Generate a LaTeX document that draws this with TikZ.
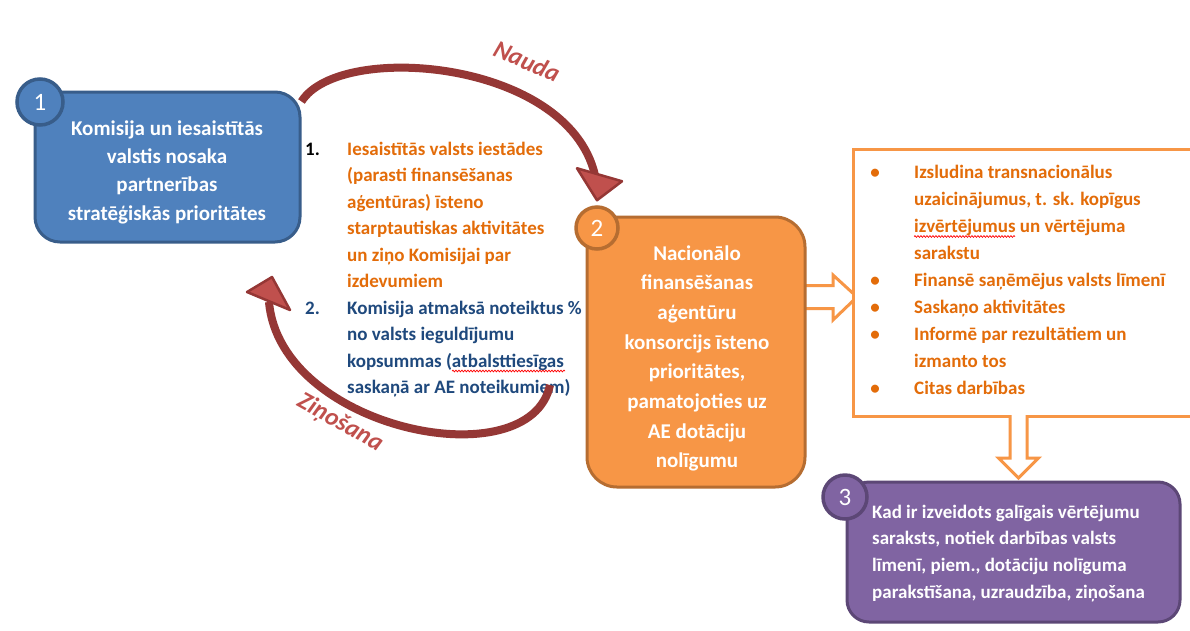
\documentclass[tikz,border=0pt]{standalone}
\usepackage{fontspec}
\setmainfont{Carlito}
\usetikzlibrary{calc,decorations.pathmorphing}
\definecolor{bfill}{HTML}{4F81BD}
\definecolor{bdraw}{HTML}{385D8A}
\definecolor{ofill}{HTML}{F79646}
\definecolor{odraw}{HTML}{B66D31}
\definecolor{pfill}{HTML}{8064A2}
\definecolor{pdraw}{HTML}{5C4776}
\definecolor{arr}{HTML}{953735}
\definecolor{arrhead}{HTML}{C0504D}
\definecolor{otext}{HTML}{E36C09}
\definecolor{btext}{HTML}{1F497D}
\definecolor{lbl}{HTML}{C0504D}
\begin{document}
\begin{tikzpicture}[x=1pt,y=-1pt,
  rbox/.style={rounded corners=#1, line width=3pt, inner sep=0},
  numc/.style={circle, line width=3.5pt, inner sep=0, text=white, font=\fontsize{25}{25}\selectfont},
  big/.style={text=white, font=\fontsize{21}{21}\selectfont\bfseries, anchor=base, inner sep=0},
  mid/.style={font=\fontsize{19}{19}\selectfont\bfseries, anchor=base west, inner sep=0},
  small/.style={text=white, font=\fontsize{19}{19}\selectfont\bfseries, anchor=base west, inner sep=0},
  curvearr/.style={draw=arr, line width=8pt},
  headarr/.style={fill=arrhead, draw=arr, line width=2.5pt, line join=round},
  hollow/.style={draw=ofill, fill=white, line width=3pt},
  lbltxt/.style={text=lbl, font=\fontsize{#1}{#1}\selectfont\bfseries\itshape, inner sep=0},
  squig/.style={draw=red, line width=0.7pt, decorate, decoration={snake, amplitude=0.9pt, segment length=3pt}}
]
\useasboundingbox (0,0) rectangle (1190,630);
\fill[white] (0,0) rectangle (1190,630);

% ---- box 1
\node[rbox=25pt, draw=bdraw, fill=bfill, minimum width=265pt, minimum height=150pt] (b1) at (167.5,167) {};
\node[numc, draw=bdraw, fill=bfill, minimum size=46pt] (c1) at (40,102) {1};
\node[big] (b1a) at (167,135) {Komisija un iesaistītās};
\node[big] (b1b) at (167,163.3) {valstis nosaka};
\node[big] (b1c) at (167,191.6) {partnerības};
\node[big] (b1d) at (167,220) {stratēģiskās prioritātes};

% ---- hollow arrows (behind boxes)
\coordinate (as) at (805,297);
\draw[hollow] (as) ++(-3,-11.5) -- ++(31,0) -- ++(0,-10.5) -- ++(24,22) -- ++(-24,23) -- ++(0,-11.5) -- ++(-31,0) -- cycle;

% ---- right box
\node[draw=ofill, line width=3pt, fill=white, minimum width=350pt, minimum height=267pt, anchor=north west, inner sep=0] (rb) at (852,148) {};
\coordinate (ds) at (1018.5,415);
\draw[hollow] (ds) ++(-8.5,0) -- ++(0,43) -- ++(-11.5,0) -- ++(20,20) -- ++(20,-20) -- ++(-11.5,0) -- ++(0,-43);

% ---- box 2
\node[rbox=30pt, draw=odraw, fill=ofill, minimum width=218pt, minimum height=270pt] (b2) at (696,352) {};
\node[numc, draw=odraw, fill=ofill, minimum size=42pt] (c2) at (597,228) {2};
\node[big] (b2a) at (697,260) {Nacionālo};
\node[big] (b2b) at (697,289.7) {finansēšanas};
\node[big] (b2c) at (697,319.4) {aģentūru};
\node[big] (b2d) at (697,349.1) {konsorcijs īsteno};
\node[big] (b2e) at (697,378.8) {prioritātes,};
\node[big] (b2f) at (697,408.5) {pamatojoties uz};
\node[big] (b2g) at (697,438.2) {AE dotāciju};
\node[big] (b2h) at (697,467.9) {nolīgumu};

% ---- box 3
\node[rbox=22pt, draw=pdraw, fill=pfill, minimum width=333pt, minimum height=140pt] (b3) at (1013.5,552) {};
\node[numc, draw=pdraw, fill=pfill, minimum size=44pt] (c3) at (845,497) {3};
\node[small] (b3a) at (872,518) {Kad ir izveidots galīgais vērtējumu};
\node[small] (b3b) at (872,544.7) {saraksts, notiek darbības valsts};
\node[small] (b3c) at (872,571.4) {līmenī, piem., dotāciju nolīguma};
\node[small] (b3d) at (872,598) {parakstīšana, uzraudzība, ziņošana};

% ---- middle text
\node[mid] (m1) at (305,155) {1.};
\node[mid, text=otext] (m1a) at (347,155) {Iesaistītās valsts iestādes};
\node[mid, text=otext] (m1b) at (347,181.5) {(parasti finansēšanas};
\node[mid, text=otext] (m1c) at (347,208) {aģentūras) īsteno};
\node[mid, text=otext] (m1d) at (347,234.5) {starptautiskas aktivitātes};
\node[mid, text=otext] (m1e) at (347,261) {un ziņo Komisijai par};
\node[mid, text=otext] (m1f) at (347,287.5) {izdevumiem};
\node[mid, text=btext] (m2) at (305,314) {2.};
\node[mid, text=btext] (m2a) at (347,314) {Komisija atmaksā noteiktus \%};
\node[mid, text=btext] (m2b) at (347,340.5) {no valsts ieguldījumu};
\node[mid, text=btext] (m2c) at (347,367) {kopsummas (atbalsttiesīgas};
\node[mid, text=btext] (m2d) at (347,393.5) {saskaņā ar AE noteikumiem)};
\draw[squig] (452,371) -- (565,371);

% ---- right list
\foreach \yy/\nm in {178/r1,286.4/r2,313.5/r3,340.6/r4,394.8/r5}{
  \node[mid, text=otext, anchor=base] (\nm) at (875,\yy) {•};
}
\node[mid, text=otext] (ra) at (914,178) {Izsludina transnacionālus};
\node[mid, text=otext] (rb2) at (914,205.1) {uzaicinājumus, t. sk. kopīgus};
\node[mid, text=otext] (rc) at (914,232.2) {izvērtējumus un vērtējuma};
\node[mid, text=otext] (rd) at (914,259.3) {sarakstu};
\node[mid, text=otext] (re) at (914,286.4) {Finansē saņēmējus valsts līmenī};
\node[mid, text=otext] (rf) at (914,313.5) {Saskaņo aktivitātes};
\node[mid, text=otext] (rg) at (914,340.6) {Informē par rezultātiem un};
\node[mid, text=otext] (rh) at (914,367.7) {izmanto tos};
\node[mid, text=otext] (ri) at (914,394.8) {Citas darbības};
\draw[squig] (914,236.5) -- (1015,236.5);

% ---- Nauda arrow
\coordinate (ns) at ($(b1.north east)+(0,11)$);
\coordinate (nt) at ($(c2.north)+(0,-5)$);
\coordinate (ne) at ($(nt)+(-1,-20)$);
\draw[curvearr] (ns) .. controls (340,40) and (575,60) .. (ne);
\draw[headarr] (nt) -- ++(-20,-32) -- ++(45,13) -- cycle;
\node[lbltxt=25, rotate=-23] (nauda) at (527,61) {Nauda};

% ---- Zinosana arrow
\coordinate (zs) at (550,385);
\coordinate (zt) at (272,277);
\coordinate (ze) at ($(zt)+(-3,25)$);
\draw[curvearr] (zs) .. controls (530,480) and (280,430) .. (ze);
\draw[headarr] (zt) -- ++(-25,15) -- ++(43,18) -- cycle;
\node[lbltxt=25, rotate=-29] (zin) at (340,423) {Ziņošana};
\end{tikzpicture}
\end{document}
